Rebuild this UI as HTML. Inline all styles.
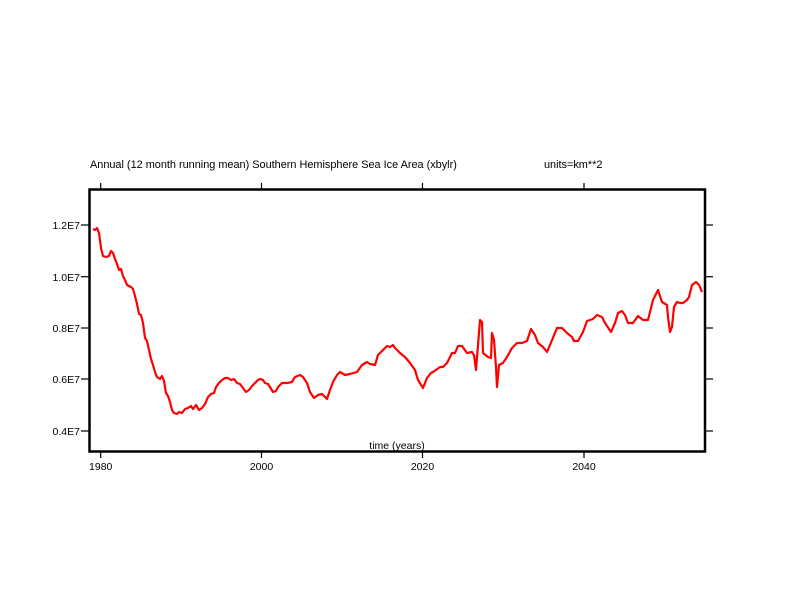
<!DOCTYPE html>
<html><head><style>body{margin:0;background:#fff}svg{display:block}text{font-family:"Liberation Sans",sans-serif;font-size:10.5px;fill:#000}</style></head>
<body>
<svg width="792" height="612" viewBox="0 0 792 612" xmlns="http://www.w3.org/2000/svg">
<rect width="792" height="612" fill="#fff"/>
<text x="90" y="168" style="font-size:10.9px">Annual (12 month running mean) Southern Hemisphere Sea Ice Area (xbylr)</text>
<text x="544" y="168" style="font-size:10.9px">units=km**2</text>
<rect x="89.5" y="189.5" width="615.5" height="262" fill="none" stroke="#000" stroke-width="2.5"/>
<g stroke="#000" stroke-width="1.2">
<line x1="100.7" y1="183" x2="100.7" y2="189"/><line x1="261.5" y1="183" x2="261.5" y2="189"/><line x1="422.5" y1="183" x2="422.5" y2="189"/><line x1="584" y1="183" x2="584" y2="189"/>
<line x1="100.7" y1="452" x2="100.7" y2="458"/><line x1="261.5" y1="452" x2="261.5" y2="458"/><line x1="422.5" y1="452" x2="422.5" y2="458"/><line x1="584" y1="452" x2="584" y2="458"/>
<line x1="81" y1="225" x2="89" y2="225"/><line x1="81" y1="276.7" x2="89" y2="276.7"/><line x1="81" y1="328" x2="89" y2="328"/><line x1="81" y1="379" x2="89" y2="379"/><line x1="81" y1="431" x2="89" y2="431"/>
<line x1="705" y1="225" x2="713" y2="225"/><line x1="705" y1="276.7" x2="713" y2="276.7"/><line x1="705" y1="328" x2="713" y2="328"/><line x1="705" y1="379" x2="713" y2="379"/><line x1="705" y1="431" x2="713" y2="431"/>
</g>
<g text-anchor="end"><text x="80" y="229">1.2E7</text><text x="80" y="281">1.0E7</text><text x="80" y="332">0.8E7</text><text x="80" y="383">0.6E7</text><text x="80" y="435">0.4E7</text></g>
<g text-anchor="middle"><text x="100.7" y="470">1980</text><text x="261.5" y="470">2000</text><text x="422.5" y="470">2020</text><text x="584" y="470">2040</text><text x="397" y="449">time (years)</text></g>
<polyline fill="none" stroke="#f00" stroke-width="2.2" stroke-linejoin="round" points="93,229 95,230 97,228 99,233 101,248 103,256 106,257 109,256 111,251 113,253 115,259 117,264 119,270 121,269 123,276 125,280 127,285 129,286 131,287 133,289 135,296 137,304 139,314 141,315 143,323 145,338 147,341 149,350 151,359 153,365 155,372 157,377 160,379 162,376 164,381 166,393 168,396 170,402 172,410 174,413 177,414 179,412 182,413 185,409 188,408 191,406 193,409 196,405 199,410 202,408 205,404 208,397 211,394 214,393 216,387 219,383 222,380 225,378 228,378 231,380 234,379 237,383 240,384 243,388 246,392 249,390 252,386 255,383 258,380 260,379 263,380 265,383 268,384 273,392 276,391 278,387 282,383 287,383 292,382 295,377 300,375 303,377 307,383 310,392 314,398 318,395 322,394 327,399 330,390 333,382 337,375 340,372 345,375 350,374 357,372 362,365 367,362 370,364 375,365 378,355 383,350 387,346 390,347 393,345 395,348 400,353 405,357 410,363 415,370 418,380 423,388 427,378 431,373 433,372 440,367 443,367 447,363 452,353 455,353 458,346 462,346 467,353 472,352 474,355 476,370 478,345 480,320 482,322 483,353 488,357 491,358 492,333 494,340 496,367 497,387 499,365 503,363 507,357 512,348 517,343 522,343 527,341 531,329 535,335 538,343 543,347 547,352 550,345 557,328 562,328 567,333 572,337 574,341 578,341 583,332 587,321 593,319 597,315 602,317 605,323 611,332 615,323 618,313 622,311 625,315 628,323 633,323 638,316 643,320 648,320 653,300 658,290 662,302 667,305 668,317 670,332 672,327 674,307 677,302 680,303 683,303 687,300 689,297 692,285 696,282 699,285 702,292"/>
</svg>
</body></html>
